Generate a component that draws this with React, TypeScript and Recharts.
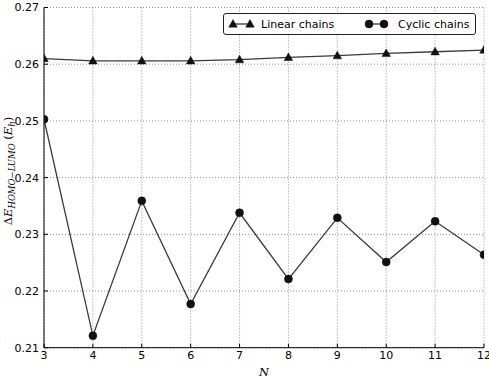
import React from 'react';
import { LineChart, Line, XAxis, YAxis, CartesianGrid } from 'recharts';

const nValues = [3, 4, 5, 6, 7, 8, 9, 10, 11, 12];
const linearChains = [0.2610, 0.2606, 0.2606, 0.2606, 0.2608, 0.2612, 0.2615, 0.2619, 0.2622, 0.2625];
const cyclicChains = [0.2503, 0.2121, 0.2359, 0.2177, 0.2338, 0.2221, 0.2329, 0.2251, 0.2323, 0.2264];
const xTicks = [3, 4, 5, 6, 7, 8, 9, 10, 11, 12];
const yTicks = [0.21, 0.22, 0.23, 0.24, 0.25, 0.26, 0.27];

const data = nValues.map((n, i) => ({ n, linear: linearChains[i], cyclic: cyclicChains[i] }));

const LINE = '#3a3a3a';
const FONT = '"DejaVu Sans", sans-serif';
const SERIF = '"DejaVu Serif", "Liberation Serif", serif';

const Triangle = (props: any) => {
  const { cx, cy } = props;
  if (cx == null || cy == null) return null;
  const r = 4.5;
  return (
    <path
      d={`M${cx},${cy - r} L${cx + r * 0.95},${cy + r * 0.7} L${cx - r * 0.95},${cy + r * 0.7} Z`}
      fill="#111"
      stroke="#111"
      strokeWidth={0.5}
    />
  );
};

const Dot = (props: any) => {
  const { cx, cy } = props;
  if (cx == null || cy == null) return null;
  return <circle cx={cx} cy={cy} r={4} fill="#111" stroke="#111" strokeWidth={0.5} />;
};

const LegendBox = () => (
  <div
    style={{
      position: 'absolute',
      left: 223,
      top: 13,
      width: 253,
      height: 22,
      border: '1px solid #222',
      borderRadius: 3,
      background: '#fff',
      boxSizing: 'border-box',
    }}
  >
    <svg width={251} height={20} style={{ position: 'absolute', left: 0, top: 0 }}>
      <line x1={9} x2={26} y1={10} y2={10} stroke={LINE} strokeWidth={1.3} />
      <Triangle cx={9} cy={10} />
      <Triangle cx={26} cy={10} />
      <text x={37} y={14} fontFamily={FONT} fontSize={11} fill="#000">Linear chains</text>
      <line x1={145} x2={160} y1={10} y2={10} stroke={LINE} strokeWidth={1.3} />
      <Dot cx={145} cy={10} />
      <Dot cx={160} cy={10} />
      <text x={174} y={14} fontFamily={FONT} fontSize={11} fill="#000">Cyclic chains</text>
    </svg>
  </div>
);

const YLabel = () => {
  const x = 12;
  const cy = 171;
  return (
    <text
      x={x}
      y={cy}
      transform={`rotate(-90, ${x}, ${cy})`}
      textAnchor="middle"
      fontFamily={SERIF}
      fontSize={11.5}
      fill="#000"
    >
      <tspan>Δ</tspan>
      <tspan fontStyle="italic">E</tspan>
      <tspan fontStyle="italic" fontSize={8.5} dy={2.5}>HOMO−LUMO</tspan>
      <tspan dy={-2.5}> (</tspan>
      <tspan fontStyle="italic">E</tspan>
      <tspan fontStyle="italic" fontSize={8.5} dy={2.5}>h</tspan>
      <tspan dy={-2.5}>)</tspan>
    </text>
  );
};

const XLabel = (props: any) => {
  const vb = props.viewBox || {};
  const cx = (vb.x || 0) + (vb.width || 0) / 2;
  return (
    <text x={cx} y={376} textAnchor="middle" fontFamily={SERIF} fontStyle="italic" fontSize={11.5} fill="#000">
      N
    </text>
  );
};

export default function App() {
  return (
    <div style={{ position: 'absolute', left: 0, top: 0, width: 489, height: 378, background: '#fff' }}>
      <LineChart
        width={489}
        height={378}
        data={data}
        margin={{ top: 7.5, right: 5, left: 0, bottom: 0 }}
      >
        <CartesianGrid
          xAxisId="b"
          yAxisId="l"
          stroke="#000"
          strokeOpacity={0.55}
          strokeDasharray="1 2"
          strokeWidth={0.8}
        />
        <XAxis
          xAxisId="b"
          dataKey="n"
          type="number"
          domain={[3, 12]}
          ticks={xTicks}
          height={30.3}
          tickSize={-4}
          tickMargin={7}
          axisLine={{ stroke: '#000', strokeWidth: 1 }}
          tickLine={{ stroke: '#000' }}
          tick={{ fontFamily: FONT, fontSize: 11, fill: '#000' }}
          interval={0}
          allowDataOverflow
          label={<XLabel />}
        />
        <XAxis
          xAxisId="t"
          orientation="top"
          dataKey="n"
          type="number"
          domain={[3, 12]}
          ticks={xTicks}
          height={0}
          tickSize={-4}
          tick={false}
          axisLine={{ stroke: '#000', strokeWidth: 1 }}
          tickLine={{ stroke: '#000' }}
          interval={0}
        />
        <YAxis
          yAxisId="l"
          type="number"
          domain={[0.21, 0.27]}
          ticks={yTicks}
          width={44}
          tickSize={-4}
          tickMargin={9}
          axisLine={{ stroke: '#000', strokeWidth: 1 }}
          tickLine={{ stroke: '#000' }}
          tick={{ fontFamily: FONT, fontSize: 11, fill: '#000' }}
          tickFormatter={(v: number) => v.toFixed(2)}
          interval={0}
          allowDataOverflow
          label={<YLabel />}
        />
        <YAxis
          yAxisId="r"
          orientation="right"
          type="number"
          domain={[0.21, 0.27]}
          ticks={yTicks}
          width={0}
          tickSize={-4}
          tick={false}
          axisLine={{ stroke: '#000', strokeWidth: 1 }}
          tickLine={{ stroke: '#000' }}
          interval={0}
        />
        <Line
          xAxisId="b"
          yAxisId="l"
          dataKey="linear"
          name="Linear chains"
          stroke={LINE}
          strokeWidth={1.3}
          dot={<Triangle />}
          activeDot={false}
          isAnimationActive={false}
        />
        <Line
          xAxisId="b"
          yAxisId="l"
          dataKey="cyclic"
          name="Cyclic chains"
          stroke={LINE}
          strokeWidth={1.3}
          dot={<Dot />}
          activeDot={false}
          isAnimationActive={false}
        />
      </LineChart>
      <LegendBox />
    </div>
  );
}
